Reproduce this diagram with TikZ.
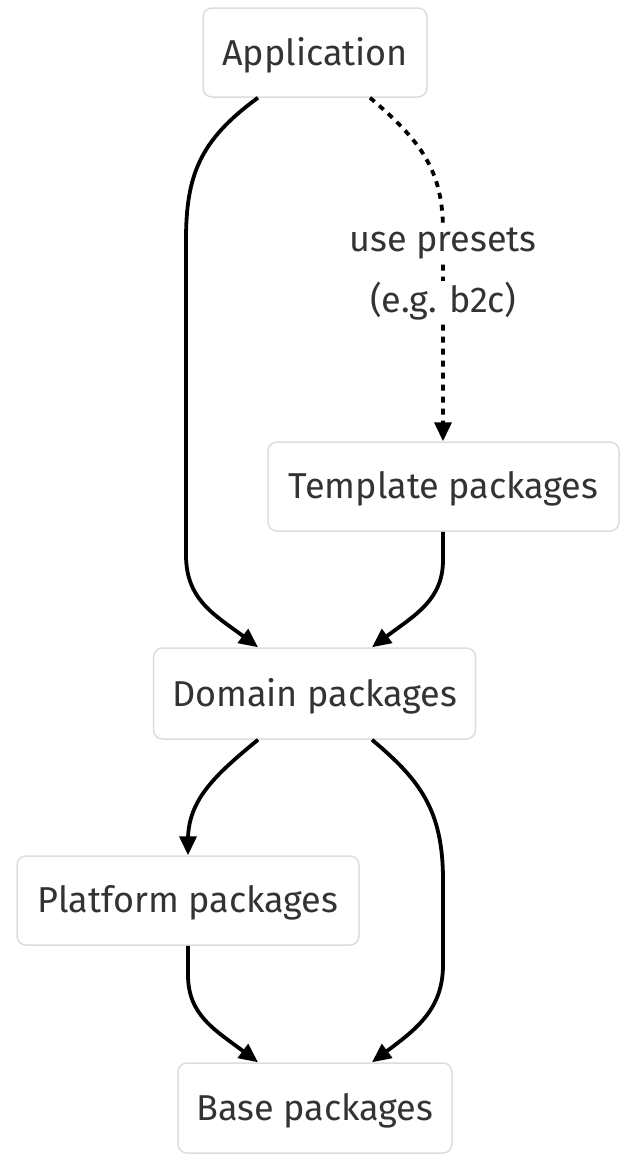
\documentclass[tikz,border=0pt]{standalone}
\usepackage{fontspec}
\setmainfont{Fira Sans}
\usetikzlibrary{arrows.meta}
\definecolor{txt}{HTML}{333333}
\definecolor{bord}{HTML}{DDDDDD}
\tikzset{
  box/.style={draw=bord, line width=1.5pt, rounded corners=9pt, fill=white, text=txt,
    font=\fontsize{36}{44}\selectfont, inner sep=0pt, anchor=center, text depth=3pt},
  lbl/.style={fill=white, text=txt, font=\fontsize{36}{44}\selectfont, inner xsep=2pt, inner ysep=1pt},
  edge/.style={line width=3.8pt, draw=black, -{Triangle[length=19pt,width=17pt]}},
  dotedge/.style={edge, dash pattern=on 6pt off 6pt}
}
\begin{document}
\begin{tikzpicture}[x=1pt,y=-1pt]
\useasboundingbox (0,0) rectangle (625,1163);
\node[box, minimum width=224pt, minimum height=89pt] (app) at (315,52.5) {Application};
\node[box, minimum width=351pt, minimum height=89pt] (tpl) at (443.5,486.5) {Template packages};
\node[box, minimum width=322pt, minimum height=91pt] (dom) at (314.5,693.5) {Domain packages};
\node[box, minimum width=342pt, minimum height=89pt] (plat) at (188,900.5) {Platform packages};
\node[box, minimum width=274pt, minimum height=90pt] (base) at (315,1108) {Base packages};

\draw[edge] ([xshift=-57pt]app.south) .. controls (200,140) and (186,175) .. (186,240)
  -- (186,555) .. controls (186,600) and (215,615) .. ([xshift=-56.5pt]dom.north);
\draw[dotedge] ([xshift=55pt]app.south) .. controls (420,140) and (443,170) .. (443,230)
  -- (tpl.north -| 443,0);
\node[lbl] (l1) at (443,244) {use presets};
\node[lbl] (l2) at (443,301) {(e.g. b2c)};
\draw[edge] (tpl.south -| 443,0) -- (443,560) .. controls (443,600) and (415,615) .. ([xshift=57.5pt]dom.north);
\draw[edge] ([xshift=-56.5pt]dom.south) .. controls (215,775) and (188,800) .. (188,840) -- (plat.north);
\draw[edge] ([xshift=57.5pt]dom.south) .. controls (420,780) and (443,810) .. (443,880)
  -- (443,965) .. controls (443,1010) and (415,1030) .. ([xshift=57pt]base.north);
\draw[edge] (plat.south) -- (188,975) .. controls (188,1015) and (215,1030) .. ([xshift=-57pt]base.north);
\end{tikzpicture}
\end{document}
